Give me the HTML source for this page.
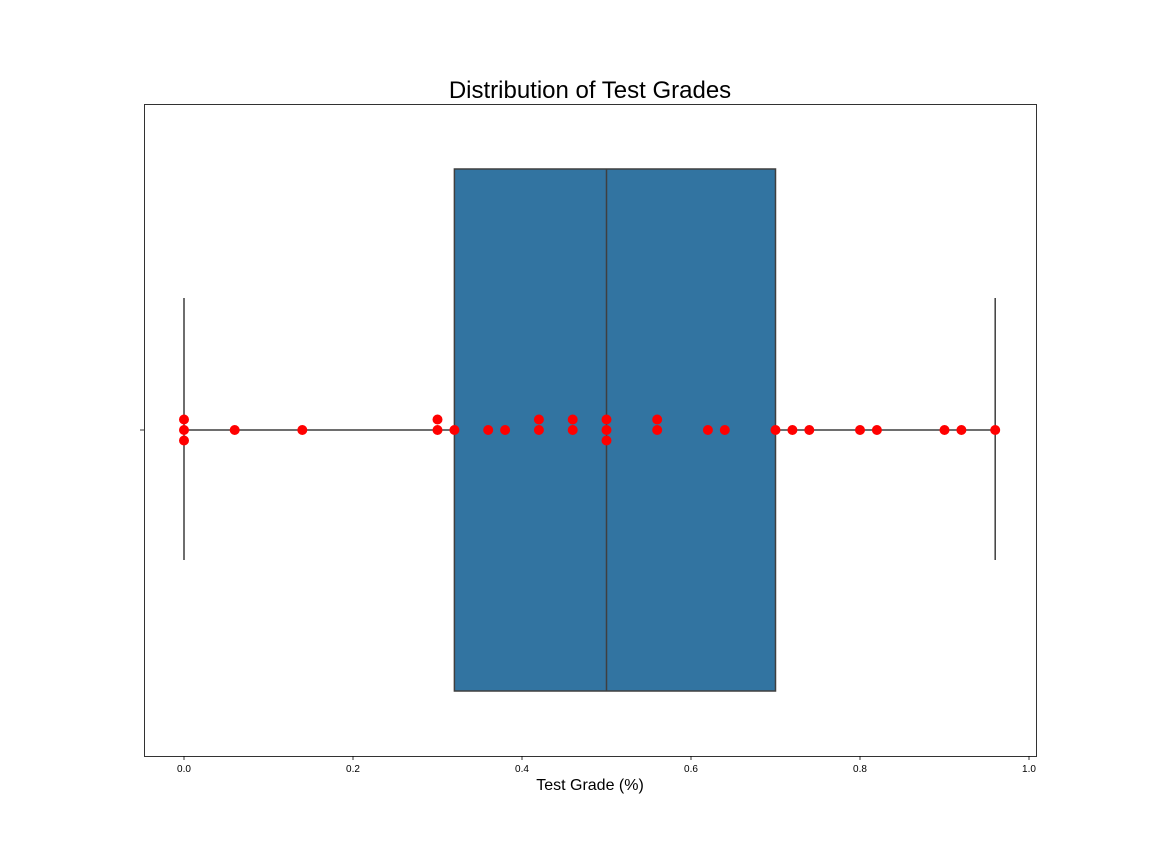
<!DOCTYPE html>
<html><head><meta charset="utf-8"><style>
body{margin:0;background:#fff;}
svg{display:block;font-family:"Liberation Sans","DejaVu Sans",sans-serif;}
</style></head><body>
<svg id="chart" width="1152" height="864">
<text x="590" y="98" text-anchor="middle" font-size="24" fill="#000">Distribution of Test Grades</text>
<rect x="144.5" y="104.5" width="892" height="652" fill="none" stroke="#000" stroke-width="0.8"/>
<g id="marks"></g>
<g id="xaxis"></g>
<line x1="140" y1="430" x2="144" y2="430" stroke="#000" stroke-width="0.8"/>
<text x="590" y="790" text-anchor="middle" font-size="16">Test Grade (%)</text>
</svg>
<script>
const grades = [0,0,0,0.06,0.14,0.30,0.30,0.32,0.36,0.38,0.42,0.42,0.46,0.46,0.50,0.50,0.50,0.56,0.56,0.62,0.64,0.70,0.72,0.74,0.80,0.82,0.90,0.92,0.96];
const boxStats = [0, 0.32, 0.50, 0.70, 0.96]; // whiskerLow, q1, median, q3, whiskerHigh
const xTicks = [0.0,0.2,0.4,0.6,0.8,1.0];
const xTickLabels = ["0.0","0.2","0.4","0.6","0.8","1.0"];

const NS="http://www.w3.org/2000/svg";
const x = v => 184 + v*845;
const cy = 430;
function el(tag, attrs, parent){const e=document.createElementNS(NS,tag);for(const k in attrs)e.setAttribute(k,attrs[k]);parent.appendChild(e);return e;}
const marks=document.getElementById('marks');
const xa=document.getElementById('xaxis');

let e;
e=el('line',{x1:x(boxStats[0]),x2:x(boxStats[1]),y1:cy,y2:cy,stroke:'#3f3f3f','stroke-width':1.5},marks);


e=el('line',{x1:x(boxStats[3]),x2:x(boxStats[4]),y1:cy,y2:cy,stroke:'#3f3f3f','stroke-width':1.5},marks);


e=el('line',{x1:x(boxStats[0]),x2:x(boxStats[0]),y1:298,y2:560,stroke:'#3f3f3f','stroke-width':1.5},marks);


e=el('line',{x1:x(boxStats[4]),x2:x(boxStats[4]),y1:298,y2:560,stroke:'#3f3f3f','stroke-width':1.5},marks);


e=el('rect',{x:x(boxStats[1]),y:169,width:x(boxStats[3])-x(boxStats[1]),height:522,fill:'#3274a1',stroke:'#3f3f3f','stroke-width':1.5},marks);


e=el('line',{x1:x(boxStats[2]),x2:x(boxStats[2]),y1:169,y2:691,stroke:'#3f3f3f','stroke-width':1.5},marks);



const seen={};
const offs=[0,-1,1,-2,2];
grades.forEach(g=>{
  const k=g.toFixed(3); const i=seen[k]||0; seen[k]=i+1;
  const p=el('circle',{cx:x(g),cy:cy+offs[i]*10.5,r:5,fill:'#ff0000'},marks);
  
  
});

xTicks.forEach((t,i)=>{
  const l=el('line',{x1:x(t),x2:x(t),y1:756,y2:760,stroke:'#000','stroke-width':0.8},xa);
  
  
  const tx=el('text',{x:x(t),y:772,'text-anchor':'middle','font-size':10},xa);
  tx.textContent=xTickLabels[i];
  
  
});
</script>
</body></html>
